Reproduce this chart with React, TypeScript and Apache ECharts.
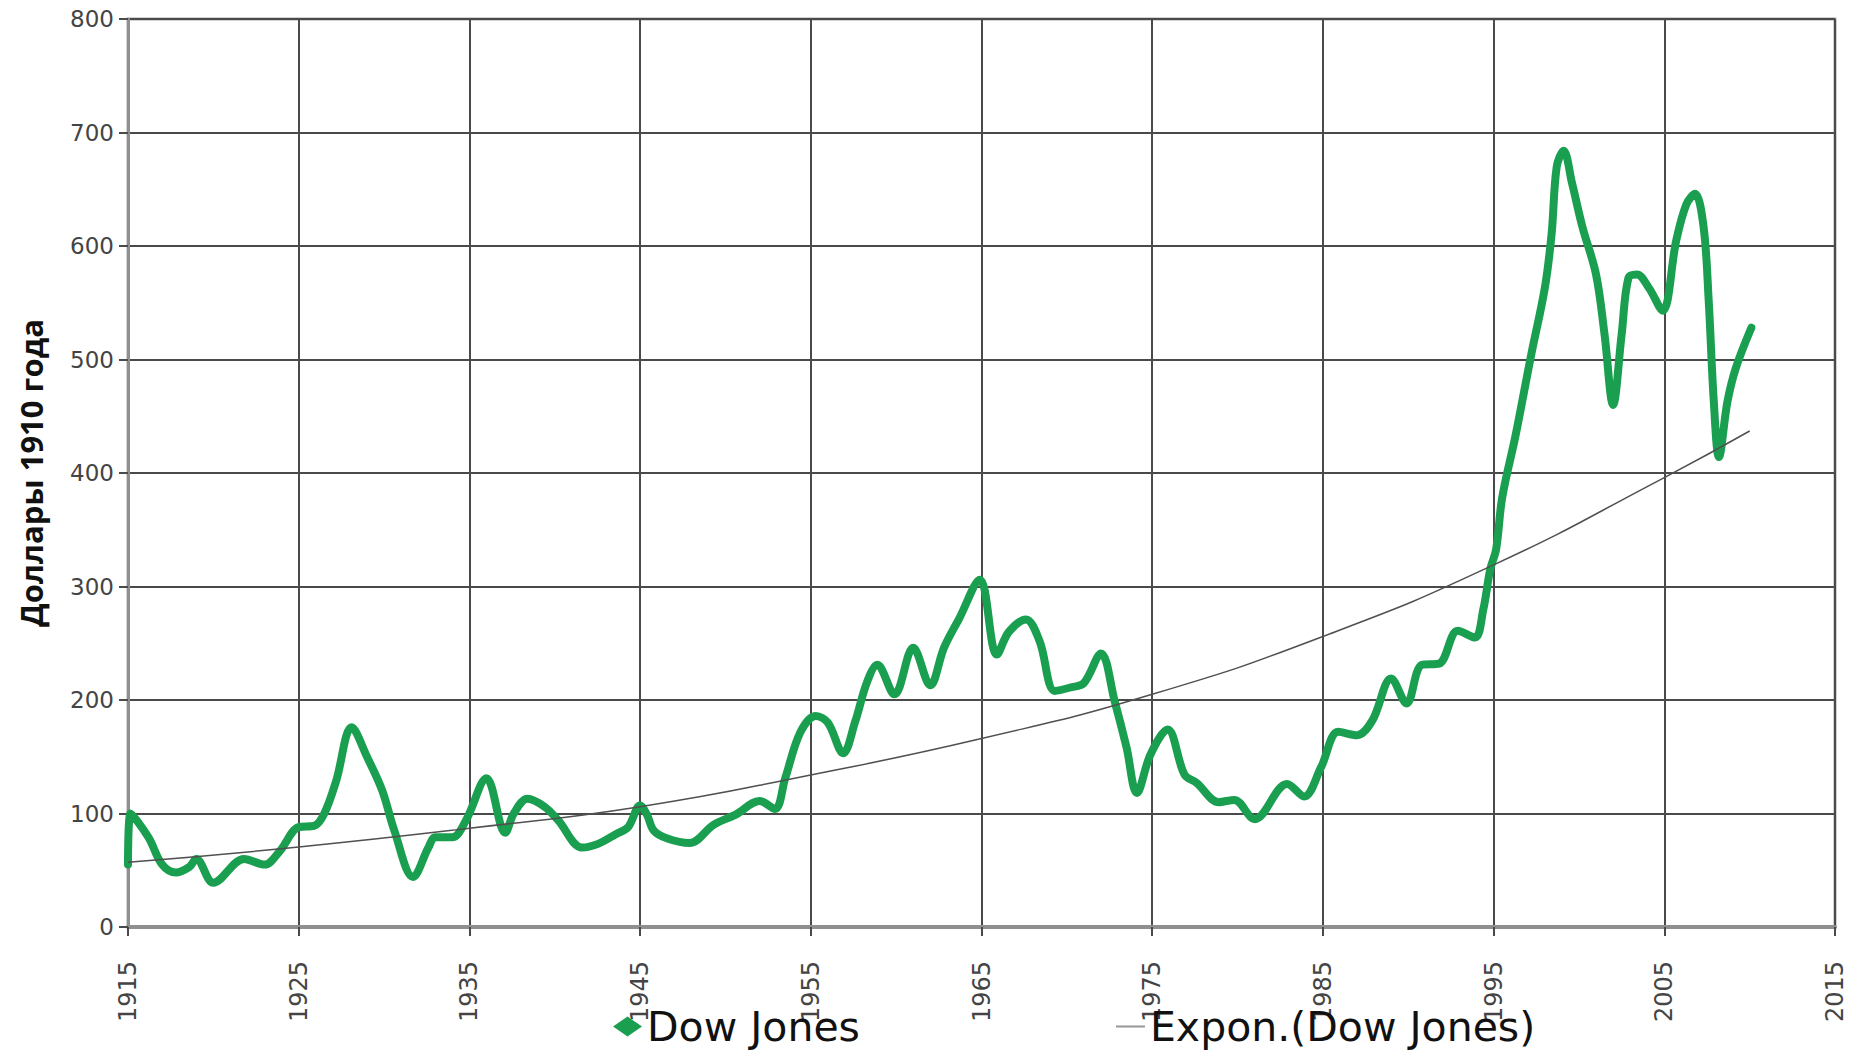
import React, { useEffect, useRef } from "react";
import * as echarts from "echarts";

const BASE_YEAR = 1915;

// Dow Jones in 1910 dollars (year, value)
const djYears = [
  1915.0, 1915.15, 1916.2, 1917.0, 1917.8, 1918.6, 1919.0, 1920.0, 1921.8, 1923.0,
  1923.9, 1925.0, 1925.9, 1926.5, 1927.2, 1928.1, 1929.0, 1929.9, 1930.6, 1931.7,
  1932.6, 1933.0, 1934.0, 1934.8, 1936.0, 1937.1, 1937.6, 1938.4, 1939.4, 1940.2,
  1941.6, 1942.5, 1943.6, 1944.3, 1945.0, 1945.4, 1945.8, 1946.6, 1947.9, 1949.3,
  1950.6, 1952.0, 1952.9, 1953.5, 1954.4, 1955.3, 1956.0, 1956.9, 1957.6, 1958.3,
  1958.9, 1959.9, 1961.0, 1962.0, 1962.8, 1963.7, 1964.9, 1965.9, 1966.6, 1967.6,
  1968.4, 1969.3, 1970.2, 1971.0, 1972.0, 1972.8, 1973.5, 1974.1, 1974.9, 1975.9,
  1976.9, 1977.6, 1978.9, 1979.8, 1981.0, 1982.9, 1983.9, 1984.9, 1985.9, 1987.0,
  1987.9, 1989.0, 1989.9, 1990.8, 1991.8, 1992.9, 1993.9, 1994.4, 1994.8, 1995.15,
  1995.5, 1996.3, 1997.2, 1998.0, 1998.4, 1998.7, 1999.1, 1999.6, 2000.2, 2001.0,
  2001.5, 2002.0, 2002.5, 2002.9, 2003.4, 2004.1, 2004.9, 2005.7, 2006.3, 2006.8,
  2007.3, 2007.6, 2007.9, 2008.2, 2008.7, 2009.2, 2010.1,
];
const djValues = [
  55, 100, 79, 55, 48, 53, 60, 39, 60, 55,
  67, 88, 89, 100, 129, 176, 150, 120, 85, 44,
  70, 79, 79, 94, 131, 83, 100, 113, 106, 94,
  70, 73, 82, 88, 107, 99, 85, 78, 74, 90,
  99, 111, 104, 131, 172, 186, 180, 153, 181, 216,
  231, 205, 246, 213, 246, 272, 306, 240, 260, 271,
  252, 208, 211, 215, 241, 199, 158, 118, 152, 174,
  134, 127, 110, 112, 95, 126, 115, 141, 172, 169,
  182, 219, 197, 231, 232, 261, 255, 280, 315, 333,
  378, 434, 504, 563, 611, 670, 684, 655, 617, 575,
  522, 460, 522, 572, 575, 563, 543, 605, 637, 646,
  617, 552, 463, 414, 463, 493, 528,
];

// Exponential trend line
const trendYears = [1915, 1925, 1935, 1945, 1955, 1965, 1975, 1985, 1995, 2005, 2010];
const trendValues = [57, 70.5, 87, 106, 134, 166, 205, 256, 319, 396, 437];

const yTicks = { min: 0, max: 800, interval: 100 };
const xSpan = { min: 1915, max: 2015, interval: 10 };

const SERIES_MAIN = "Dow Jones";
const SERIES_TREND = "Expon.(Dow Jones)";
const Y_TITLE = "Доллары 1910 года";

export default function App() {
  const ref = useRef<HTMLDivElement>(null);

  useEffect(() => {
    document.body.style.margin = "0";
    if (!ref.current) return;
    const chart = echarts.init(ref.current, undefined, { renderer: "svg" });
    const main = djYears.map((y, i) => [y - BASE_YEAR, djValues[i]]);
    const trend = trendYears.map((y, i) => [y - BASE_YEAR, trendValues[i]]);
    chart.setOption({
      animation: false,
      backgroundColor: "#ffffff",
      textStyle: { fontFamily: "DejaVu Sans" },
      grid: {
        left: 128,
        right: 19,
        top: 19,
        bottom: 124,
        show: true,
        borderColor: "#a8a8a8",
        borderWidth: 3,
        backgroundColor: "transparent",
      },
      legend: {
        left: 608,
        top: 1001,
        itemGap: 256,
        itemWidth: 29,
        itemHeight: 20,
        textStyle: { fontFamily: "DejaVu Sans", fontSize: 41, color: "#111" },
        data: [
          { name: SERIES_MAIN, icon: "diamond" },
          { name: SERIES_TREND, icon: "path://M0 0H28V2H0Z", itemStyle: { color: "#999" } },
        ],
      },
      xAxis: {
        type: "value",
        min: xSpan.min - BASE_YEAR,
        max: xSpan.max - BASE_YEAR,
        interval: xSpan.interval,
        axisLine: { show: true, onZero: false, lineStyle: { color: "#8f8f8f", width: 4 } },
        axisTick: { show: true, length: 9, lineStyle: { color: "#4a4a4a", width: 2 } },
        axisLabel: {
          rotate: 90,
          margin: 34,
          fontSize: 24,
          color: "#444",
          fontFamily: "DejaVu Sans",
          formatter: (v: number) => String(v + BASE_YEAR),
        },
        splitLine: { show: true, lineStyle: { color: "#4a4a4a", width: 2 } },
      },
      yAxis: {
        type: "value",
        min: yTicks.min,
        max: yTicks.max,
        interval: yTicks.interval,
        name: Y_TITLE,
        nameLocation: "middle",
        nameGap: 82,
        nameTextStyle: { fontSize: 31, fontWeight: "bold", color: "#111", fontFamily: "Open Sans" },
        axisLine: { show: true, lineStyle: { color: "#8f8f8f", width: 3 } },
        axisTick: { show: true, length: 9, lineStyle: { color: "#4a4a4a", width: 2 } },
        axisLabel: { margin: 14, fontSize: 23, color: "#444", fontFamily: "DejaVu Sans" },
        splitLine: { show: true, lineStyle: { color: "#4a4a4a", width: 2 } },
      },
      series: [
        {
          name: SERIES_MAIN,
          type: "line",
          data: main,
          smooth: 0.35,
          showSymbol: false,
          symbol: "diamond",
          itemStyle: { color: "#1a9f50" },
          lineStyle: { color: "#1a9f50", width: 8, join: "round", cap: "round" },
          z: 3,
        },
        {
          name: SERIES_TREND,
          type: "line",
          data: trend,
          smooth: true,
          showSymbol: false,
          itemStyle: { color: "#999" },
          lineStyle: { color: "#505050", width: 1.5 },
          z: 4,
        },
      ],
    });
    return () => chart.dispose();
  }, []);

  return (
    <div
      ref={ref}
      style={{ position: "fixed", left: 0, top: 0, width: 1854, height: 1051 }}
    />
  );
}
